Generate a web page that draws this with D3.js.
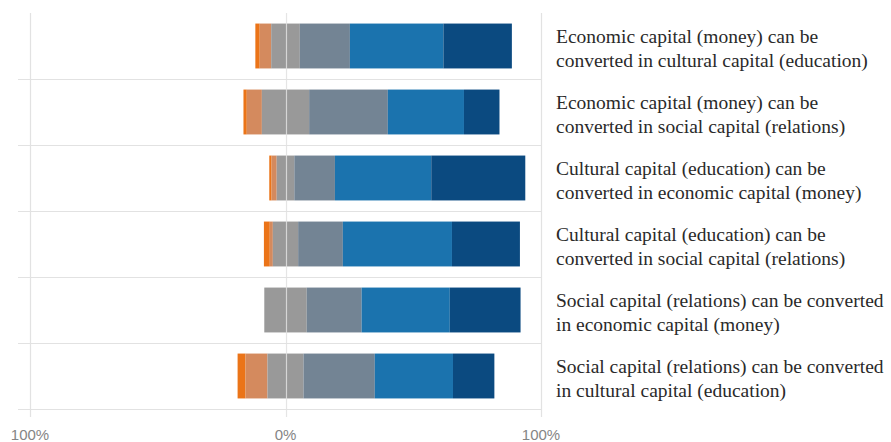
<!DOCTYPE html>
<html>
<head>
<meta charset="utf-8">
<script src="https://cdn.jsdelivr.net/npm/d3@7"></script>
<style>
  html, body { margin: 0; padding: 0; background: #fff; }
  svg { display: block; }
</style>
</head>
<body>
<svg id="chart" width="891" height="442"></svg>
<script>
// Statements (each drawn on two lines)
const statements = [
  ["Economic capital (money) can be", "converted in cultural capital (education)"],
  ["Economic capital (money) can be", "converted in social capital (relations)"],
  ["Cultural capital (education) can be", "converted in economic capital (money)"],
  ["Cultural capital (education) can be", "converted in social capital (relations)"],
  ["Social capital (relations) can be converted", "in economic capital (money)"],
  ["Social capital (relations) can be converted", "in cultural capital (education)"]
];

// Share of answers per response level, in percent
const stronglyDisagree = [1.7, 1.3, 0.9, 2.3, 0.0, 3.1];
const disagree         = [4.5, 5.9, 2.0, 1.2, 0.0, 8.6];
const neutral          = [11.2, 18.5, 6.9, 9.9, 16.6, 14.1];
const somewhatAgree    = [19.6, 30.8, 15.9, 17.5, 21.5, 27.9];
const agree            = [36.6, 29.8, 37.7, 42.7, 34.5, 30.6];
const stronglyAgree    = [26.8, 13.9, 36.8, 26.6, 27.7, 16.2];

const axisTicks = [-100, 0, 100];
const tickLabels = ["100%", "0%", "100%"];

const levels = [
  { key: "stronglyDisagree", values: stronglyDisagree, color: "#eb7418" },
  { key: "disagree",         values: disagree,         color: "#d48a5e" },
  { key: "neutral",          values: neutral,          color: "#999999" },
  { key: "somewhatAgree",    values: somewhatAgree,    color: "#738494" },
  { key: "agree",            values: agree,            color: "#1b73ae" },
  { key: "stronglyAgree",    values: stronglyAgree,    color: "#0b4a80" }
];

const svg = d3.select("#chart");

const x = d3.scaleLinear().domain([-100, 100]).range([30, 541]);
const y = d3.scaleBand()
  .domain(d3.range(statements.length))
  .range([13, 409])
  .paddingInner(0.32)
  .paddingOuter(0.16);

const gridColor = "#e2e2e2";
const rowStep = y.step();
const rowTop = i => y(i) - y.paddingOuter() * rowStep;

// Row separators
svg.append("g")
  .selectAll("line")
  .data(d3.range(1, statements.length + 1))
  .join("line")
  .attr("x1", 18).attr("x2", x(100))
  .attr("y1", i => rowTop(0) + i * rowStep + 0.5)
  .attr("y2", i => rowTop(0) + i * rowStep + 0.5)
  .attr("stroke", gridColor)
  .attr("stroke-width", 1.2);

// Stacked segments: the neutral share straddles zero
const rows = statements.map((_, i) => {
  const neg = stronglyDisagree[i] + disagree[i] + neutral[i] / 2;
  let start = -neg;
  return levels.map(l => {
    const seg = { row: i, x0: start, x1: start + l.values[i], color: l.color };
    start += l.values[i];
    return seg;
  });
});

svg.append("g")
  .selectAll("g")
  .data(rows)
  .join("g")
  .selectAll("rect")
  .data(d => d.filter(s => s.x1 > s.x0))
  .join("rect")
  .attr("x", d => x(d.x0))
  .attr("width", d => x(d.x1) - x(d.x0))
  .attr("y", d => y(d.row))
  .attr("height", y.bandwidth())
  .attr("fill", d => d.color);

// Vertical gridlines, drawn over the bars
svg.append("g")
  .selectAll("line")
  .data(axisTicks)
  .join("line")
  .attr("x1", d => Math.round(x(d)) + 0.5)
  .attr("x2", d => Math.round(x(d)) + 0.5)
  .attr("y1", 13)
  .attr("y2", 417)
  .attr("stroke", d => d === 0 ? "rgba(225,225,225,0.85)" : gridColor)
  .attr("stroke-width", 1.2);

// Axis labels
svg.append("g")
  .selectAll("text")
  .data(axisTicks)
  .join("text")
  .attr("x", d => x(d))
  .attr("y", 440)
  .attr("text-anchor", "middle")
  .attr("font-family", "'Liberation Sans', Arial, sans-serif")
  .attr("font-size", 15)
  .attr("fill", "#858585")
  .text((d, i) => tickLabels[i]);

// Statement labels at the right
const labels = svg.append("g")
  .selectAll("text")
  .data(statements)
  .join("text")
  .attr("font-family", "'Liberation Serif', 'Times New Roman', serif")
  .attr("font-size", 19.5)
  .attr("fill", "#2a2a2a");

labels.selectAll("tspan")
  .data((d, i) => d.map((line, j) => ({ line, j, i })))
  .join("tspan")
  .attr("x", 556)
  .attr("y", d => y(d.i) + y.bandwidth() / 2 - 3 + d.j * 23.5)
  .text(d => d.line);
</script>
</body>
</html>
